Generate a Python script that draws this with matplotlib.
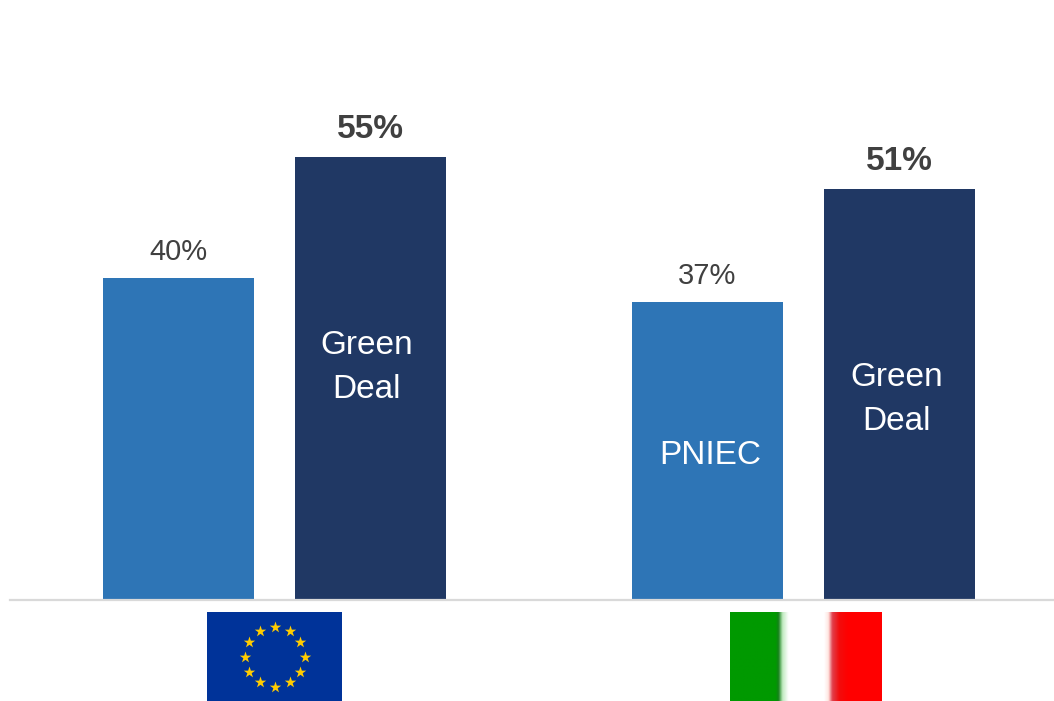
import matplotlib
matplotlib.use('Agg')
import matplotlib.pyplot as plt
import numpy as np

# dati
valori = [40, 55, 37, 51]
etichette_valori = ['40%', '55%', '37%', '51%']
etichette_barre = ['', 'Green\nDeal', 'PNIEC', 'Green\nDeal']
colori = ['#2E75B6', '#203864', '#2E75B6', '#203864']
grassetto = [False, True, False, True]
centri = [178.5, 370.5, 707.5, 899.5]

W, H = 1054, 701
plt.rcParams['font.family'] = ['Liberation Sans']

fig = plt.figure(figsize=(W / 100, H / 100), dpi=100, facecolor='white')

# assi: x in pixel, y in percento, base delle barre a 599.5 px
base = 599.5
ax = fig.add_axes([0, 1 - base / H, 1, base / H])
ax.set_xlim(0, W)
ax.set_ylim(0, base / 8.04)
ax.axis('off')

ax.bar(centri, valori, width=151, color=colori, zorder=2)
ax.plot([10, W], [0, 0], color='#D9D9D9', lw=1.6, zorder=3, clip_on=False)

posizioni_testo = [0, -4, 3, -3]
for i in range(4):
    ax.text(centri[i], valori[i] + 1.5, etichette_valori[i], ha='center', va='bottom',
            color='#404040', fontsize=21 if not grassetto[i] else 24,
            fontweight='bold' if grassetto[i] else 'normal')
    if etichette_barre[i]:
        ax.text(centri[i] + posizioni_testo[i], valori[i] - 26.1 if i != 2 else 17.9,
                etichette_barre[i], ha='center', va='center', color='white',
                fontsize=24, linespacing=1.54)


def flag_axes(x0, y0, x1, y1):
    a = fig.add_axes([x0 / W, 1 - y1 / H, (x1 - x0) / W, (y1 - y0) / H])
    a.axis('off')
    return a


# bandiera UE
eu = flag_axes(207, 612, 342, 701)
eu.set_facecolor('#003399')
eu.axis('on')
eu.set_xticks([])
eu.set_yticks([])
for s in eu.spines.values():
    s.set_visible(False)
eu.set_xlim(-67.5, 67.5)
eu.set_ylim(-44.5, 44.5)
ang = np.deg2rad(np.arange(0, 360, 30))
eu.scatter(30 * np.cos(ang), 30 * np.sin(ang), marker='*', s=75, color='#FFCC00', linewidths=0)

# bandiera Italia, sfumata ai bordi del bianco
it = flag_axes(730, 612, 881, 701)
stops_x = [0, 0.30, 0.318, 0.345, 0.384, 0.62, 0.649, 0.675, 0.72, 0.78, 1]
stops_r = [0, 0, 0.08, 0.75, 1, 1, 1, 0.88, 0.95, 1, 1]
stops_g = [0.60, 0.60, 0.50, 0.92, 1, 1, 0.90, 0.25, 0.05, 0, 0]
stops_b = [0, 0, 0.10, 0.75, 1, 1, 0.88, 0.30, 0.05, 0, 0]
xx = np.linspace(0, 1, 151)
img = np.stack([np.interp(xx, stops_x, stops_r),
                np.interp(xx, stops_x, stops_g),
                np.interp(xx, stops_x, stops_b)], axis=-1)[None, :, :]
it.imshow(img, aspect='auto', interpolation='bilinear')

fig.savefig('out.png', dpi=100)
